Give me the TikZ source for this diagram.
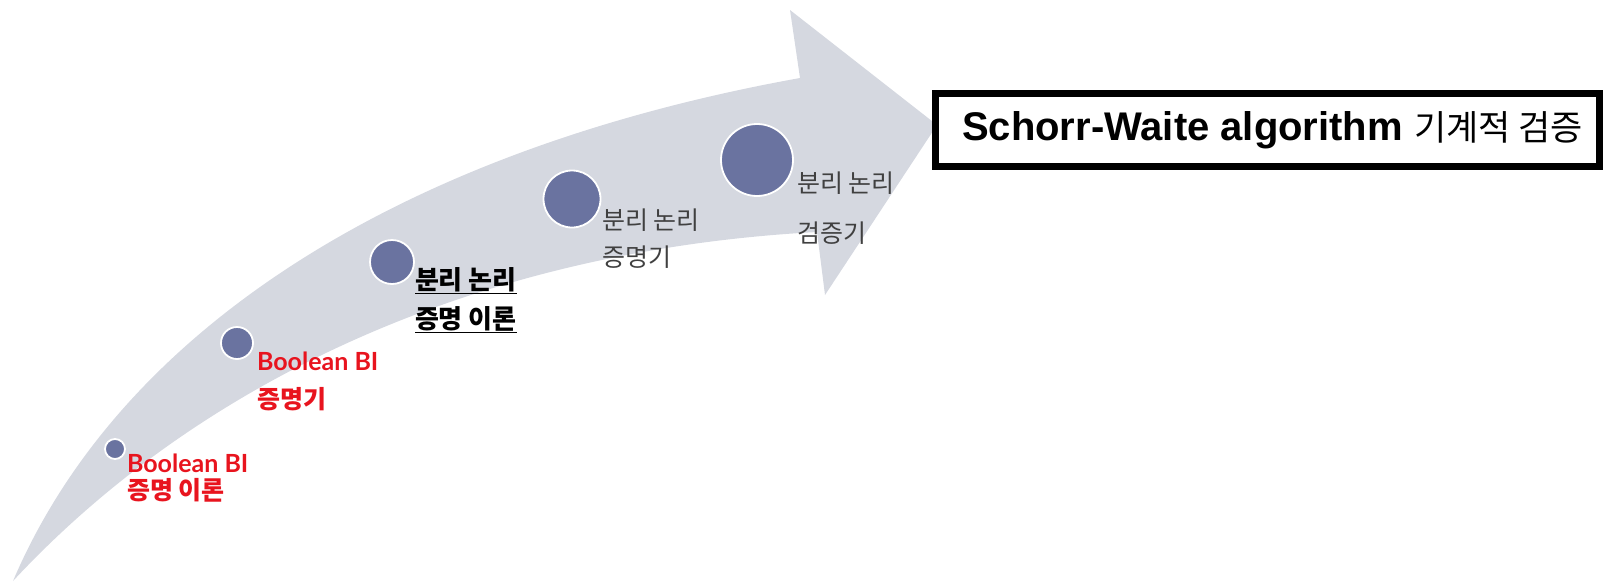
\documentclass[tikz,border=0pt]{standalone}
\usepackage{fontspec}
\setmainfont{Liberation Sans}
\newfontfamily\kr{Noto Sans CJK KR}
\newfontfamily\lato{Lato}
\definecolor{arrowgray}{HTML}{D5D8E0}
\definecolor{dotblue}{HTML}{6A73A0}
\definecolor{labred}{HTML}{E8141E}
\definecolor{labgray}{HTML}{404040}
\tikzset{
  dot/.style={circle, fill=dotblue, draw=white, line width=1.8pt, inner sep=0pt},
  lab/.style={anchor=base west, inner sep=0pt, outer sep=0pt},
  redlat/.style={lab, text=labred, font=\lato\bfseries\fontsize{25}{28}\selectfont},
  redkr/.style={lab, text=labred, font=\kr\bfseries\fontsize{25}{28}\selectfont},
  blackkr/.style={lab, text=black, font=\kr\bfseries\fontsize{26}{28}\selectfont},
  graykr/.style={lab, text=labgray, font=\kr\fontsize{25}{28}\selectfont},
  titlebox/.style={draw=black, fill=white, line width=7pt, minimum width=664pt, minimum height=73pt, inner sep=0pt}
}
\begin{document}
\begin{tikzpicture}[x=1pt,y=-1pt]
\useasboundingbox (0,0) rectangle (1606,584);
% curved arrow
\fill[arrowgray] (13,581) .. controls (120,330) and (400,150) .. (800,78)
  -- (790,10) -- (937,125) -- (825,295) -- (817,232)
  .. controls (480,250) and (200,380) .. (13,581) -- cycle;
% milestones
\node[dot, minimum size=20pt] (c1) at (115,449) {};
\node[dot, minimum size=32pt] (c2) at (237,343) {};
\node[dot, minimum size=44pt] (c3) at (392,262) {};
\node[dot, minimum size=57pt] (c4) at (572,199) {};
\node[dot, minimum size=72pt] (c5) at (757,160) {};
% labels
\node[redlat] (t1a) at (127,472) {Boolean BI};
\node[redkr]  (t1b) at (127,499) {증명 이론};
\node[redlat] (t2a) at (257,370) {Boolean BI};
\node[redkr]  (t2b) at (257,408) {증명기};
\node[blackkr] (t3a) at (415,289) {\underline{분리 논리}};
\node[blackkr] (t3b) at (415,328) {\underline{증명 이론}};
\node[graykr] (t4a) at (602,229) {분리 논리};
\node[graykr] (t4b) at (602,266) {증명기};
\node[graykr] (t5a) at (797,192) {분리 논리};
\node[graykr] (t5b) at (797,242) {검증기};
% title box
\node[titlebox] (box) at (1267.5,130) {\hspace*{10pt}\fontsize{40}{44}\selectfont\bfseries Schorr-Waite algorithm\mdseries\ {\kr\fontsize{35}{44}\selectfont 기계적 검증}};
\end{tikzpicture}
\end{document}
